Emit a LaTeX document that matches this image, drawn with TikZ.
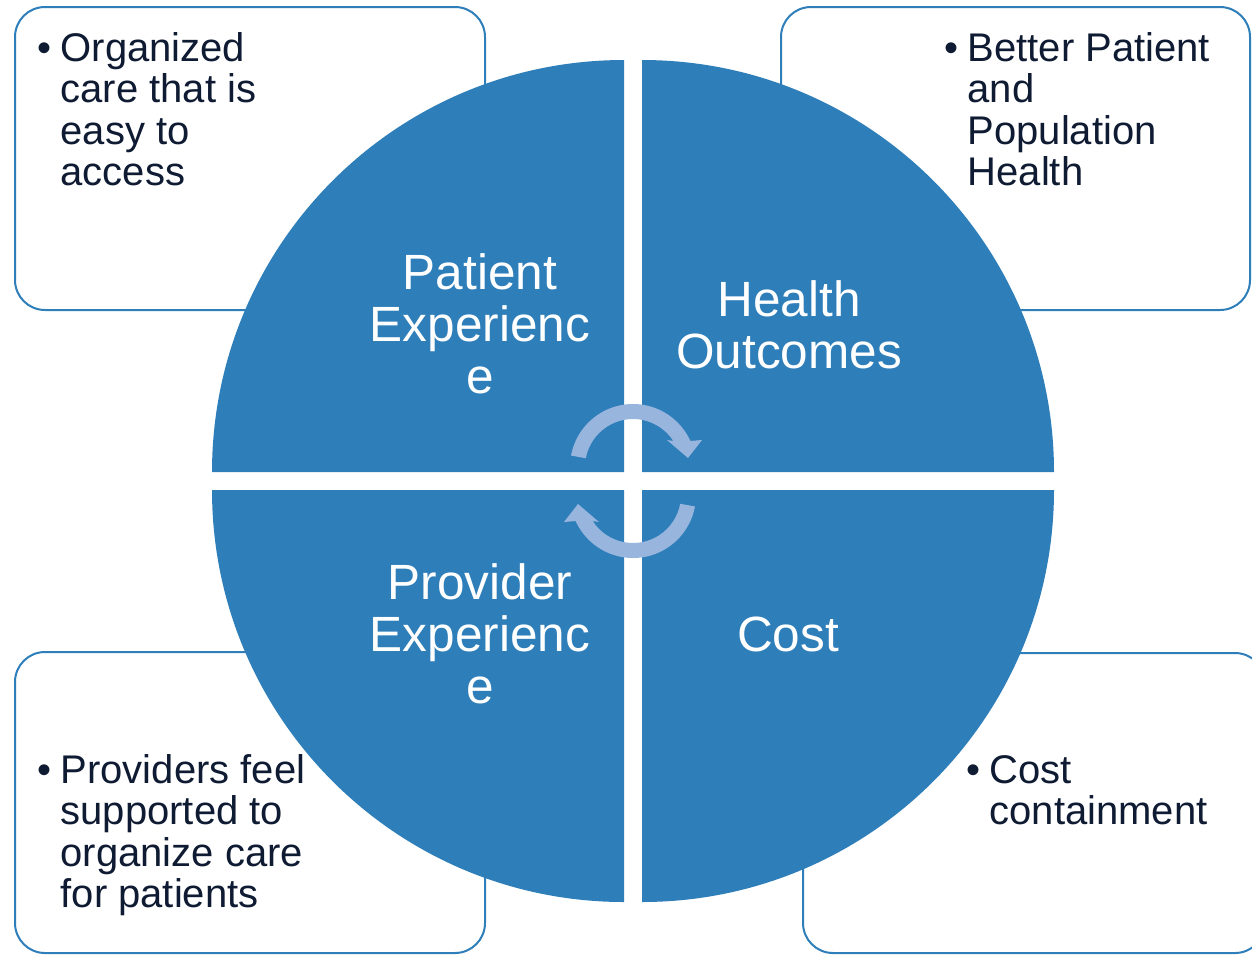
\documentclass[tikz,border=0pt]{standalone}
\usepackage{fontspec}
\setmainfont{Liberation Sans}
\usepackage{tikz}
\definecolor{quadblue}{RGB}{46,126,186}
\definecolor{inkblue}{RGB}{15,27,50}
\definecolor{cyclefill}{RGB}{152,181,221}
\tikzstyle{quadrant}=[fill=quadblue]
\tikzstyle{notebox}=[draw=quadblue,line width=2pt,rounded corners=30pt,fill=white]
\tikzstyle{quad label}=[text=white,align=center,anchor=base,inner sep=0pt,font=\fontsize{49.5}{52}\selectfont]
\tikzstyle{note}=[text=inkblue,anchor=base west,inner sep=0pt,font=\fontsize{40}{41.5}\selectfont]
\tikzstyle{cycle arrow}=[fill=cyclefill]
\newcommand{\bulletlines}[1]{\begin{tabular}[t]{@{}l@{\hspace{9.5pt}}l@{}}\textbullet & #1\end{tabular}}

\begin{document}
\begin{tikzpicture}[x=1pt,y=-1pt]
    \useasboundingbox (0,0) rectangle (1252,954);
    \clip (0,0) rectangle (1252,954);
    % First we draw the note boxes behind the circle
    \foreach \xa/\ya/\xb/\yb in {15/7/485/310, 781/7/1250/310, 15/652/485/953, 803/653/1265/953}
        \path[notebox] (\xa,\ya) rectangle (\xb,\yb);

    % Then the four quarters of the circle
    \foreach \cx/\cy/\a in {624/472/180, 642/472/270, 642/490/0, 624/490/90}
        \path[quadrant] (\cx,\cy) -- ++(\a:412) arc[start angle=\a, end angle=\a+90, radius=412] -- cycle;

    % Quarter labels (placed at the baseline of their last line)
    \node[quad label] (patient) at (480,393) {Patient\\Experienc\\e};
    \node[quad label] (health) at (789,368) {Health\\Outcomes};
    \node[quad label] (provider) at (480,703) {Provider\\Experienc\\e};
    \node[quad label] (cost) at (788,651) {Cost};

    % Bullet notes in the boxes
    \node[note] (access) at (37,61) {\bulletlines{Organized\\ & care that is\\ & easy to\\ & access}};
    \node[note] (population) at (944,61) {\bulletlines{Better Patient\\ & and\\ & Population\\ & Health}};
    \node[note] (support) at (37,783) {\bulletlines{Providers feel\\ & supported to\\ & organize care\\ & for patients}};
    \node[note] (containment) at (966,783) {\bulletlines{Cost\\ & containment}};

    % The two turning arrows in the middle
    \foreach \turn in {0,180}
        \path[cycle arrow,shift={(633,481)},rotate=\turn]
            ([shift={(0,-14)}]190.5:63) arc[start angle=190.5, end angle=335.6, radius=63]
            -- (69,-41) -- (55,-23) -- (34,-41)
            -- ([shift={(0,-14)}]327.2:48) arc[start angle=327.2, end angle=190.5, radius=48] -- cycle;
\end{tikzpicture}
\end{document}
